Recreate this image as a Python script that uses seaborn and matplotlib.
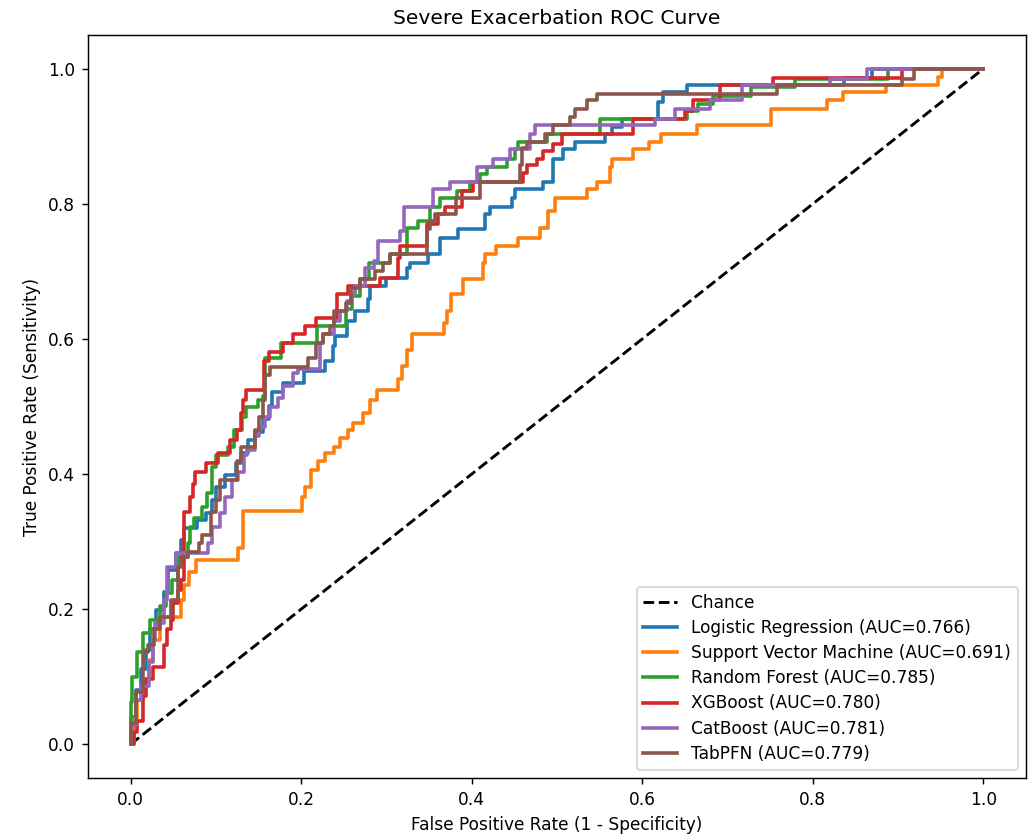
import matplotlib
matplotlib.use("Agg")
import matplotlib.pyplot as plt
import seaborn as sns

# ---- data ----
models = ["Logistic Regression", "Support Vector Machine", "Random Forest",
          "XGBoost", "CatBoost", "TabPFN"]
aucs = [0.766, 0.691, 0.785, 0.780, 0.781, 0.779]

lr_fpr = [0, 0.006, 0.012, 0.018, 0.023, 0.030, 0.039, 0.044, 0.053, 0.059, 0.063, 0.078, 0.088, 0.096,
          0.100, 0.111, 0.123, 0.129, 0.138, 0.146, 0.155, 0.162, 0.166, 0.179, 0.203, 0.228, 0.237,
          0.240, 0.254, 0.263, 0.278, 0.281, 0.299, 0.324, 0.328, 0.349, 0.363, 0.384, 0.416, 0.422,
          0.447, 0.451, 0.484, 0.495, 0.507, 0.521, 0.556, 0.564, 0.576, 0.618, 0.624, 0.652, 0.836,
          0.869, 1.0]
lr_tpr = [0, 0.041, 0.081, 0.111, 0.140, 0.170, 0.199, 0.226, 0.258, 0.283, 0.302, 0.320, 0.332, 0.342,
          0.361, 0.381, 0.398, 0.417, 0.431, 0.450, 0.462, 0.482, 0.501, 0.521, 0.535, 0.553, 0.568,
          0.590, 0.605, 0.627, 0.642, 0.659, 0.678, 0.690, 0.705, 0.712, 0.726, 0.749, 0.763, 0.785,
          0.796, 0.808, 0.822, 0.833, 0.867, 0.881, 0.892, 0.904, 0.914, 0.926, 0.951, 0.965, 0.976,
          0.987, 1.0]

svm_fpr = [0, 0.0035, 0.008, 0.014, 0.021, 0.026, 0.035, 0.059, 0.063, 0.068, 0.077, 0.126, 0.132,
           0.201, 0.205, 0.211, 0.220, 0.228, 0.238, 0.246, 0.255, 0.261, 0.272, 0.281, 0.289, 0.313,
           0.318, 0.324, 0.330, 0.367, 0.371, 0.376, 0.390, 0.413, 0.416, 0.429, 0.454, 0.480, 0.489,
           0.498, 0.535, 0.547, 0.562, 0.564, 0.589, 0.608, 0.622, 0.664, 0.751, 0.817, 0.835, 0.886,
           0.947, 0.952, 1.0]
svm_tpr = [0, 0, 0.037, 0.066, 0.096, 0.125, 0.155, 0.189, 0.214, 0.236, 0.255, 0.273, 0.291, 0.345,
           0.366, 0.381, 0.406, 0.420, 0.431, 0.440, 0.453, 0.465, 0.476, 0.490, 0.509, 0.524, 0.541,
           0.560, 0.583, 0.608, 0.624, 0.642, 0.667, 0.689, 0.712, 0.726, 0.737, 0.749, 0.765, 0.789,
           0.808, 0.822, 0.833, 0.855, 0.867, 0.881, 0.892, 0.904, 0.917, 0.940, 0.954, 0.966, 0.976,
           0.988, 1.0]

rf_fpr = [0, 0.002, 0.008, 0.015, 0.023, 0.035, 0.041, 0.049, 0.055, 0.067, 0.070, 0.074, 0.084, 0.090,
          0.096, 0.100, 0.114, 0.121, 0.131, 0.135, 0.149, 0.155, 0.158, 0.176, 0.219, 0.252, 0.260,
          0.269, 0.279, 0.304, 0.324, 0.337, 0.351, 0.363, 0.383, 0.398, 0.410, 0.418, 0.441, 0.451,
          0.454, 0.488, 0.550, 0.652, 0.665, 0.683, 0.728, 0.779, 0.888, 1.0]
rf_tpr = [0, 0.062, 0.100, 0.136, 0.165, 0.184, 0.204, 0.224, 0.243, 0.277, 0.298, 0.322, 0.335, 0.351,
          0.372, 0.410, 0.428, 0.440, 0.465, 0.484, 0.499, 0.509, 0.516, 0.572, 0.594, 0.619, 0.645,
          0.664, 0.689, 0.712, 0.726, 0.764, 0.774, 0.796, 0.808, 0.819, 0.833, 0.844, 0.855, 0.867,
          0.881, 0.892, 0.904, 0.926, 0.937, 0.948, 0.959, 0.973, 0.985, 1.0]

xgb_fpr = [0, 0.0035, 0.008, 0.014, 0.018, 0.026, 0.039, 0.043, 0.047, 0.050, 0.056, 0.059, 0.062,
           0.070, 0.073, 0.076, 0.088, 0.102, 0.117, 0.125, 0.129, 0.132, 0.135, 0.156, 0.162, 0.179,
           0.190, 0.205, 0.217, 0.242, 0.255, 0.293, 0.313, 0.316, 0.348, 0.361, 0.369, 0.389, 0.402,
           0.460, 0.465, 0.477, 0.484, 0.495, 0.506, 0.589, 0.650, 0.659, 0.691, 0.753, 0.905, 1.0]
xgb_tpr = [0, 0, 0.018, 0.034, 0.071, 0.096, 0.115, 0.147, 0.170, 0.184, 0.209, 0.229, 0.243, 0.344,
           0.366, 0.386, 0.403, 0.417, 0.431, 0.450, 0.465, 0.490, 0.509, 0.524, 0.568, 0.580, 0.594,
           0.608, 0.619, 0.631, 0.667, 0.678, 0.690, 0.720, 0.737, 0.770, 0.785, 0.796, 0.819, 0.833,
           0.845, 0.858, 0.867, 0.878, 0.888, 0.904, 0.926, 0.937, 0.954, 0.976, 0.987, 1.0]

cat_fpr = [0, 0.006, 0.012, 0.021, 0.026, 0.029, 0.039, 0.043, 0.053, 0.091, 0.096, 0.105, 0.111,
           0.119, 0.126, 0.133, 0.137, 0.146, 0.150, 0.158, 0.164, 0.173, 0.179, 0.190, 0.196, 0.222,
           0.225, 0.238, 0.246, 0.254, 0.258, 0.263, 0.275, 0.285, 0.290, 0.316, 0.320, 0.355, 0.375,
           0.406, 0.425, 0.445, 0.468, 0.474, 0.615, 0.638, 0.679, 0.717, 0.820, 0.863, 1.0]
cat_tpr = [0, 0.029, 0.066, 0.086, 0.121, 0.155, 0.180, 0.214, 0.263, 0.283, 0.298, 0.322, 0.342,
           0.366, 0.391, 0.403, 0.428, 0.435, 0.457, 0.469, 0.484, 0.499, 0.513, 0.531, 0.549, 0.556,
           0.594, 0.608, 0.627, 0.642, 0.656, 0.667, 0.678, 0.705, 0.715, 0.745, 0.760, 0.796, 0.822,
           0.833, 0.855, 0.867, 0.881, 0.904, 0.917, 0.926, 0.940, 0.954, 0.976, 0.985, 1.0]

tab_fpr = [0, 0.006, 0.014, 0.020, 0.027, 0.035, 0.047, 0.056, 0.059, 0.067, 0.080, 0.084, 0.094,
           0.100, 0.105, 0.125, 0.129, 0.146, 0.150, 0.155, 0.158, 0.164, 0.208, 0.217, 0.226, 0.234,
           0.238, 0.252, 0.258, 0.269, 0.287, 0.296, 0.304, 0.348, 0.351, 0.357, 0.381, 0.410, 0.457,
           0.459, 0.465, 0.486, 0.495, 0.515, 0.521, 0.535, 0.547, 0.758, 0.905, 0.919, 1.0]
tab_tpr = [0, 0.032, 0.077, 0.136, 0.147, 0.170, 0.189, 0.214, 0.263, 0.277, 0.285, 0.298, 0.310,
           0.344, 0.361, 0.391, 0.420, 0.440, 0.465, 0.484, 0.509, 0.546, 0.558, 0.572, 0.594, 0.608,
           0.619, 0.642, 0.653, 0.676, 0.689, 0.701, 0.712, 0.726, 0.763, 0.774, 0.785, 0.808, 0.833,
           0.858, 0.882, 0.892, 0.904, 0.917, 0.929, 0.941, 0.954, 0.963, 0.976, 0.985, 1.0]

curves = [(lr_fpr, lr_tpr), (svm_fpr, svm_tpr), (rf_fpr, rf_tpr),
          (xgb_fpr, xgb_tpr), (cat_fpr, cat_tpr), (tab_fpr, tab_tpr)]
colors = ["#1f77b4", "#ff7f0e", "#2ca02c", "#d62728", "#9467bd", "#8c564b"]

# ---- figure ----
DPI = 130
fig = plt.figure(figsize=(1033 / DPI, 834 / DPI), dpi=DPI)
ax = fig.add_axes([88 / 1033, 1 - 778 / 834, (1026 - 88) / 1033, (778 - 35) / 834])

sns.lineplot(x=[0, 1], y=[0, 1], ax=ax, color="black", linestyle="--", lw=1.6,
             label="Chance", estimator=None, sort=False)

for name, auc, (fpr, tpr), c in zip(models, aucs, curves, colors):
    sns.lineplot(x=fpr, y=tpr, ax=ax, color=c, lw=2.0, drawstyle="steps-pre",
                 estimator=None, sort=False, label=f"{name} (AUC={auc:.3f})")

ax.set_xlim(-0.05, 1.05)
ax.set_ylim(-0.05, 1.05)
ax.set_title("Severe Exacerbation ROC Curve", fontsize=11.2)
ax.set_xlabel("False Positive Rate (1 - Specificity)", fontsize=9.4)
ax.set_ylabel("True Positive Rate (Sensitivity)", fontsize=9.4)
ax.tick_params(labelsize=9.4)
ax.legend(loc="lower right", fontsize=9.4, labelspacing=0.42)

fig.savefig("out.png", dpi=DPI)
